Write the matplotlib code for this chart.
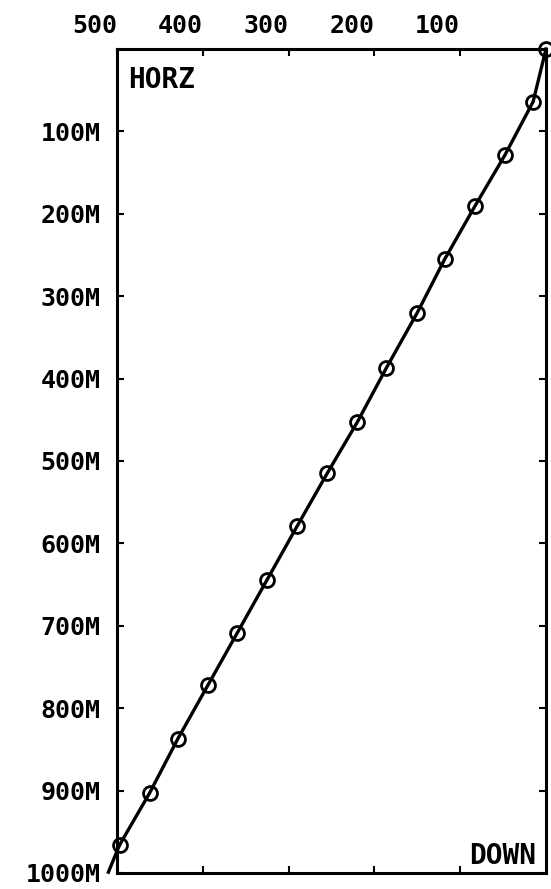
import numpy as np
import matplotlib
matplotlib.use("Agg")
import matplotlib.pyplot as plt
from matplotlib.transforms import ScaledTranslation

# survey points: horizontal offset and depth (m)
horz = [0, 15, 48, 83, 118, 150, 186, 220, 255, 290, 325, 360, 394, 429, 462, 497]
down = [0, 64, 129, 191, 255, 320, 387, 453, 515, 579, 644, 709, 772, 837, 903, 966]
# line runs a little past the last marker, down to the 1000M level
tail_horz = [497, 510]
tail_down = [966, 999]

xticks = [500, 400, 300, 200, 100]
yticks = [100, 200, 300, 400, 500, 600, 700, 800, 900, 1000]
ylabels = ["100M", "200M", "300M", "400M", "500M", "600M", "700M", "800M", "900M", "1000M"]

plt.rcParams['font.family'] = ['DejaVu Sans Mono']
plt.rcParams['font.weight'] = 'bold'

fig = plt.figure(figsize=(5.51, 8.89), dpi=100)
ax = fig.add_axes([0.2123, 0.018, 0.7786, 0.9269])

ax.plot(horz, down, color='black', lw=2.4, marker='o', ms=10,
        mfc='none', mec='black', mew=2.0, clip_on=False, zorder=3)
ax.plot(tail_horz, tail_down, color='black', lw=2.4, clip_on=False, zorder=3)

ax.set_xlim(500, 0)
ax.set_ylim(1000, 0)

ax.xaxis.tick_top()
ax.set_xticks(xticks)
ax.set_xticklabels([str(v) for v in xticks], fontsize=18, fontweight='bold')
offset = ScaledTranslation(4 / 100, 0, fig.dpi_scale_trans)
for lab in ax.get_xticklabels():
    lab.set_horizontalalignment('right')
    lab.set_transform(lab.get_transform() + offset)

ax.set_yticks(yticks)
ax.set_yticklabels(ylabels, fontsize=18, fontweight='bold')

ax.tick_params(axis='both', which='both', direction='in', length=5, width=1.5,
               top=True, bottom=True, left=True, right=True, color='black')
ax.tick_params(axis='x', pad=8)
ax.tick_params(axis='y', pad=12)

for s in ax.spines.values():
    s.set_linewidth(2.2)
    s.set_color('black')

ax.text(0.026, 0.979, "HORZ", transform=ax.transAxes, ha='left', va='top',
        fontsize=20, fontweight='bold')
ax.text(0.977, 0.011, "DOWN", transform=ax.transAxes, ha='right', va='baseline',
        fontsize=20, fontweight='bold')

fig.savefig("out.png", dpi=100)
